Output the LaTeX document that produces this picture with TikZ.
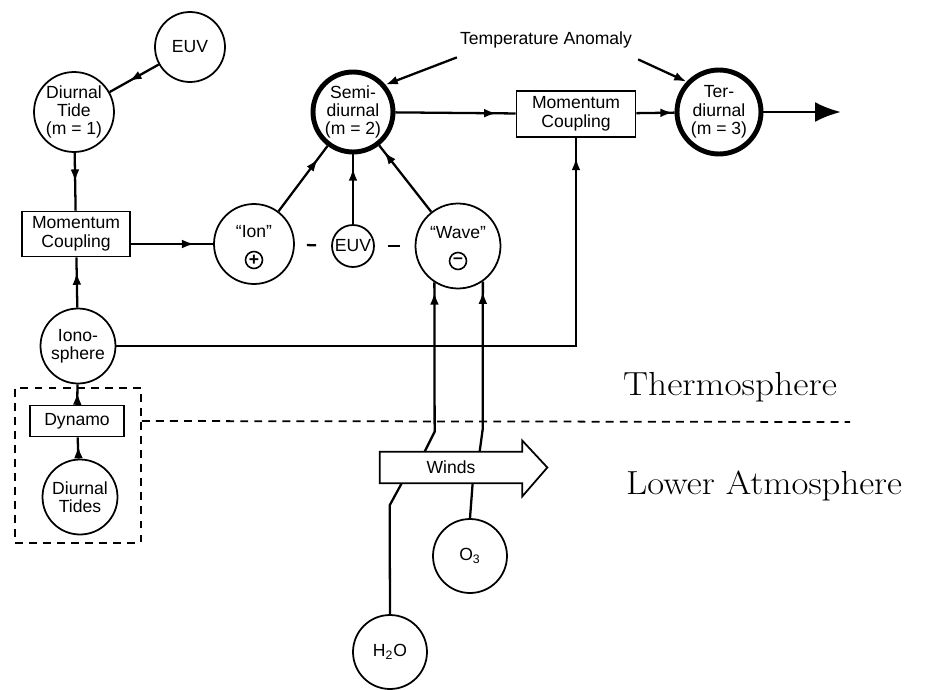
\documentclass[tikz,border=0pt]{standalone}
\usepackage{fontspec}
\setsansfont{Liberation Sans}
\usetikzlibrary{positioning,arrows.meta,calc,decorations.markings}

\tikzset{
    blob/.style={
        circle,
        draw,
        line width=1pt,
        inner sep=0pt,
        align=center
    },
    heavy/.style={
        line width=2.8pt
    },
    box/.style={
        rectangle,
        draw,
        line width=1pt,
        inner sep=0pt,
        align=center
    },
    sign/.style={
        circle,
        draw,
        line width=0.9pt,
        minimum size=0.34cm,
        inner sep=0pt,
        font=\sffamily\bfseries\fontsize{10}{10}\selectfont
    },
    link/.style={
        line width=1.3pt
    },
    midarrow/.style={
        link,
        postaction={decorate},
        decoration={markings, mark=at position #1 with {\arrow{Latex[length=7pt,width=5pt]}}}
    },
    zone/.style={
        anchor=base west,
        font=\rmfamily\fontsize{19}{21}\selectfont\addfontfeature{FakeBold=0.8}
    },
    fence/.style={
        line width=1pt,
        dash pattern=on 4.5pt off 3.5pt
    }
}

\begin{document}
\begin{tikzpicture}[x=0.02cm, y=-0.02cm, font=\sffamily\fontsize{10}{10.5}\selectfont]
    \useasboundingbox (0,0) rectangle (931,690);

    % left column
    \node[blob, minimum size=1.4cm] (euv) at (190,47) {EUV};
    \node[blob, minimum size=1.6cm] (tide) at (74,112) {Diurnal\\Tide\\(m = 1)};
    \node[box, minimum width=2.16cm, minimum height=0.9cm] (couple) at (76,234) {Momentum\\Coupling};
    \node[blob, minimum size=1.5cm] (iono) at (78,346) {Iono-\\sphere};
    \node[box, minimum width=1.88cm, minimum height=0.62cm] (dynamo) at (77,421) {Dynamo};
    \node[blob, minimum size=1.5cm] (tides) at (80,497) {Diurnal\\Tides};
    \node[fence, draw, minimum width=2.52cm, minimum height=3.1cm] (lowbox) at (78,465.5) {};

    % middle row
    \node[blob, minimum size=1.6cm] (ion) at (254,244) {};
    \node (iontext) at ([yshift=0.24cm]ion) {``Ion''};
    \node[sign] (ionsign) at ([yshift=-0.32cm]ion) {+};
    \node[blob, minimum size=0.84cm] (euvlow) at (353,246) {EUV};
    \node[blob, minimum size=1.7cm] (wave) at (458,246) {};
    \node (wavetext) at ([yshift=0.26cm]wave) {``Wave''};
    \node[sign] (wavesign) at ([yshift=-0.3cm]wave) {--};

    % top row
    \node[blob, heavy, minimum size=1.6cm] (semi) at (353,112) {Semi-\\diurnal\\(m = 2)};
    \node[box, minimum width=2.38cm, minimum height=0.92cm] (couple2) at (576,114) {Momentum\\Coupling};
    \node[blob, heavy, minimum size=1.68cm] (ter) at (719,112) {Ter-\\diurnal\\(m = 3)};
    \coordinate (out) at (841,112);
    \node (anomaly) at (546,40) {Temperature Anomaly};

    % lower atmosphere
    \node[minimum width=2.84cm, minimum height=0.62cm] (winds) at (451,467.5) {Winds};
    \node[blob, minimum size=1.48cm] (ozone) at (470,556) {O\textsubscript{3}};
    \node[blob, minimum size=1.48cm] (water) at (390,652) {H\textsubscript{2}O};
    \coordinate (edge) at (850,422);

    \node[zone] (thermo) at (617,395) {\scalebox{1.12}[1]{Thermosphere}};
    \node[zone] (lower) at (620,494) {\scalebox{1.1}[1]{Lower Atmosphere}};

    \draw[line width=1pt] (winds.south east) -- (winds.south west) -- (winds.north west) -- (winds.north east)
        -- ++(0,-11) -- ([xshift=0.5cm]winds.east) -- ([yshift=-0.26cm]winds.south east) -- cycle;
    \draw[fence] (lowbox.east |- dynamo) -- (edge);

    % connectors
    \draw[midarrow=0.6] (euv) -- (tide);
    \draw[midarrow=0.5] (tide) -- (couple);
    \draw[midarrow=0.7] (iono) -- (couple);
    \draw[midarrow=0.6] (dynamo) -- (iono);
    \draw[midarrow=0.6] (tides) -- (dynamo);
    \draw[midarrow=0.77] (couple.east |- ion) -- (ion);
    \draw[midarrow=0.8] (ion) -- (semi);
    \draw[midarrow=0.8] (euvlow) -- (semi);
    \draw[midarrow=0.9] (wave) -- (semi);
    \draw[link, shorten <=0.24cm, shorten >=0.3cm] (ion) -- (euvlow);
    \draw[link, shorten <=0.26cm, shorten >=0.3cm] (euvlow) -- (wave);
    \draw[midarrow=0.84] (semi) -- (couple2);
    \draw[midarrow=0.95] (couple2) -- (ter);
    \draw[line width=1.6pt, -{Latex[length=0.52cm,width=0.4cm]}] (ter) -- (out);
    \draw[link, -{Latex[length=7pt,width=5pt]}] ($(anomaly.south west)+(3,3)$) -- (semi.40);
    \draw[link, -{Latex[length=7pt,width=5pt]}] ($(anomaly.south east)+(0,5)$) -- (ter.137);
    \draw[midarrow=0.97] (iono) -- (iono -| couple2) -- (couple2);
    \draw[midarrow=-0.2cm] ([xshift=0.9cm]winds.north west) -- ++(10,-20) -- (wave.237);
    \draw[midarrow=-0.2cm] ([xshift=2cm]winds.north west) -- ++(3,-22) -- (wave.305);
    \draw[link] ([xshift=0.44cm]winds.south west) -- ++(-12,22) -- (water.north);
    \draw[link] ([xshift=1.86cm]winds.south west) -- (ozone.north);
\end{tikzpicture}
\end{document}
